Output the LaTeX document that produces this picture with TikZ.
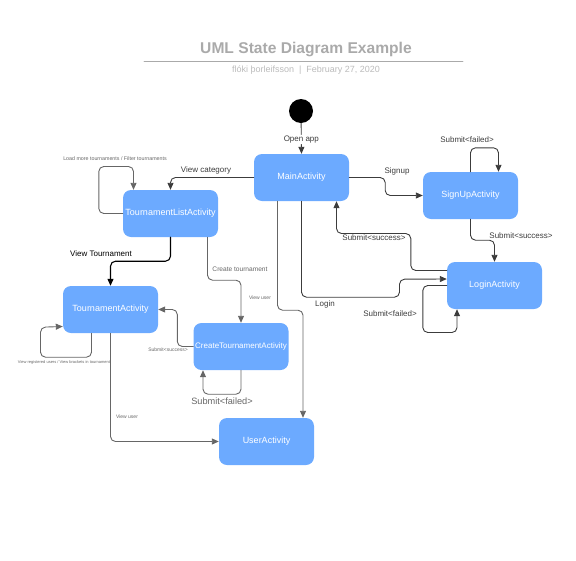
\documentclass[tikz,border=0pt]{standalone}
\usepackage{fontspec}
\setmainfont{Liberation Sans}
\usetikzlibrary{arrows.meta}
\definecolor{boxblue}{RGB}{108,170,255}
\definecolor{titlegray}{RGB}{170,170,170}
\definecolor{linegray}{RGB}{102,102,102}
\definecolor{textgray}{RGB}{60,60,60}
\tikzset{
    activity/.style={%state boxes
        rectangle,rounded corners=8pt,fill=boxblue,text=white,
        minimum width=95pt,minimum height=47pt,inner sep=0pt,
        font=\fontsize{9}{10}\selectfont},
    trans/.style={draw=linegray,line width=0.9pt,rounded corners=5pt,
        -{Triangle[length=7pt,width=6pt]}},
    lbl/.style={text=textgray,inner sep=1pt,font=\fontsize{8}{9}\selectfont},
    tiny/.style={text=linegray,inner sep=1pt,font=\fontsize{5}{6}\selectfont}
}
\begin{document}
\begin{tikzpicture}[line cap=round,line join=round,x=1pt,y=-1pt]
\useasboundingbox (0,0) rectangle (576,560);
\node[text=titlegray,font=\bfseries\fontsize{15.6}{17}\selectfont] (title) at (306,49) {UML State Diagram Example};
\draw[titlegray,line width=0.8pt] (144,61) -- (463,61);
\node[text=titlegray!80,font=\fontsize{9}{10}\selectfont] (sub) at (306,70) {flóki þorleifsson \ | \ February 27, 2020};
\node[circle,fill=black,minimum size=24pt,inner sep=0pt] (init) at (301,111) {};
\node[activity] (main) at (301.5,177.5) {MainActivity};
\node[activity] (signup) at (470.5,195.5) {SignUpActivity};
\node[activity] (login) at (494.5,285.5) {LoginActivity};
\node[activity] (tlist) at (170.5,213.5) {TournamentListActivity};
\node[activity] (tour) at (110.5,309.5) {TournamentActivity};
\node[activity,font=\fontsize{8}{9}\selectfont] (create) at (241,346.5) {CreateTournamentActivity};
\node[activity] (user) at (266.5,441.5) {UserActivity};
\draw[trans,draw=textgray] (init) -- (main.north) node[lbl,fill=white,midway,yshift=-1pt] (lOpen) {Open app};
\draw[trans,draw=textgray] (main.west) -| (tlist.north);
\node[lbl] (lCat) at (206,170) {View category};
\draw[trans,draw=textgray] (main.east) -- ++(36,0) |- (signup.west);
\node[lbl] (lSignup) at (397,171) {Signup};
\draw[trans,draw=textgray] (signup.north) -- ++(0,-24) -| ([xshift=28pt]signup.north);
\node[lbl] (lSfail) at (467,140) {Submit<failed>};
\draw[trans,draw=textgray] (signup.south) -- ++(0,21) -| (login.north);
\node[lbl] (lSsucc) at (521,236) {Submit<success>};
\draw[trans,draw=textgray] ([yshift=15pt]login.west) -| ++(-36,-37) -| ([xshift=35pt]main.south);
\node[lbl] (lLsucc) at (374,238) {Submit<success>};
\draw[trans,draw=textgray] (main.south) -- ++(0,96) -| ++(98,-18) -- ([yshift=6.5pt]login.west);
\node[lbl] (lLogin) at (325,304) {Login};
\draw[trans,draw=textgray] (login.west) -- ++(-24,0) -- ++(0,47) -| ([xshift=-37.5pt]login.south);
\node[lbl] (lLfail) at (390,314) {Submit<failed>};
\draw[trans] ([xshift=-24pt]main.south) -- ++(0,109) -| ([xshift=36.5pt]user.north);
\node[tiny] (lUser1) at (260,298) {View user};
\draw[trans] (tlist.west) -- ++(-24,0) -- ++(0,-47) -| ([xshift=-37pt]tlist.north);
\node[tiny,font=\fontsize{5.3}{6}\selectfont] (lLoad) at (115,159) {Load more tournaments / Filter tournaments};
\draw[trans,draw=black,line width=1.1pt] (tlist.south) -- ++(0,24) -| (tour.north);
\node[lbl,text=black] (lTour) at (101,254) {View Tournament};
\draw[trans] ([xshift=37pt]tlist.south) -- ++(0,43) -| (create.north);
\node[tiny,font=\fontsize{6.6}{7}\selectfont] (lCreate) at (240,269) {Create tournament};
\draw[trans] (create.west) -- ++(-16,0) |- (tour.east);
\node[tiny] (lCsucc) at (168,350) {Submit<success>};
\draw[trans] (create.south) -- ++(0,24) -| ([xshift=-38pt]create.south);
\node[lbl,text=linegray,font=\fontsize{9.2}{10}\selectfont] (lCfail) at (222,401) {Submit<failed>};
\draw[trans] ([xshift=-19pt]tour.south) -- ++(0,24) -| ++(-51,-30) -- ([yshift=-17pt]tour.west);
\node[tiny,font=\fontsize{4}{5}\selectfont] (lReg) at (64,362) {View registered users / View brackets in tournament};
\draw[trans] (tour.south) |- (user.west);
\node[tiny] (lUser2) at (127,417) {View user};
\end{tikzpicture}
\end{document}
